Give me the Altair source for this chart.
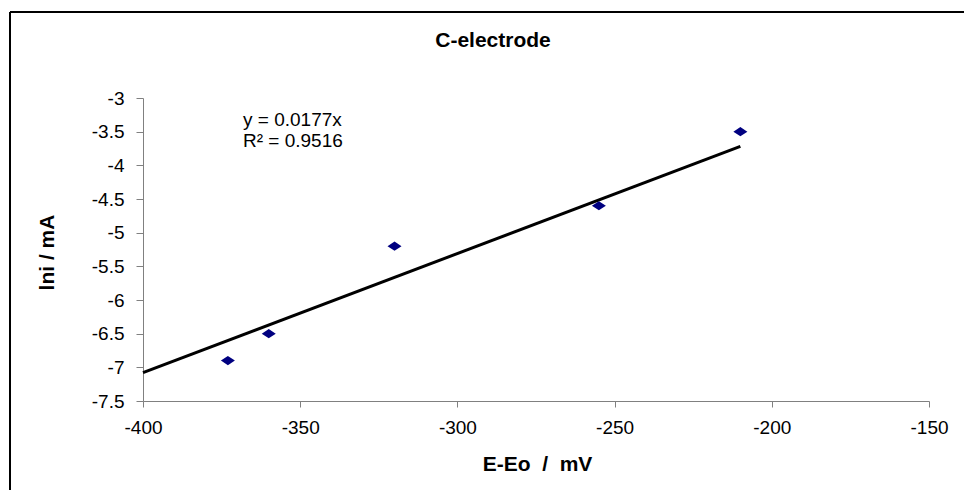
import altair as alt
import pandas as pd

# Measured points: overpotential E-Eo (mV) vs ln I (mA)
e_shift = [-373, -360, -320, -255, -210]
ln_i = [-6.9, -6.5, -5.2, -4.6, -3.5]

# Linear fit through the origin
fit_slope = 0.0177
fit_r2 = 0.9516
fit_x = [-400, -210]

x_ticks = [-400, -350, -300, -250, -200, -150]
y_ticks = [-3, -3.5, -4, -4.5, -5, -5.5, -6, -6.5, -7, -7.5]

title_text = "C-electrode"
x_title = "E-Eo\u00a0\u00a0/\u00a0\u00a0mV"
y_title = "lni / mA"

FONT = "Liberation Sans"
W, H = 786, 303
PAD = {"left": 143, "top": 98, "right": 964 - 143 - W, "bottom": 490 - 98 - H}

points = pd.DataFrame({"E": e_shift, "lnI": ln_i})
fit = pd.DataFrame({"E": fit_x})
one = pd.DataFrame({"k": [0]})

x_scale = alt.Scale(domain=[x_ticks[0], x_ticks[-1]], nice=False, zero=False)
y_scale = alt.Scale(domain=[min(y_ticks), max(y_ticks)], nice=False, zero=False)

axis_common = dict(
    grid=False,
    domainColor="#808080",
    tickColor="#808080",
    labelColor="black",
    labelFont=FONT,
    labelFontSize=19,
    labelExpr="datum.value + ''",
    titleFont=FONT,
    titleFontWeight="bold",
    titleFontSize=21,
    titleColor="black",
    titleAngle=0,
)

x_axis = alt.Axis(
    values=x_ticks, tickSize=6, labelPadding=11, labelFlush=False,
    titleX=394, titleY=63, titleBaseline="middle", titleAlign="center",
    **axis_common,
)
y_axis = alt.Axis(
    values=y_ticks, tickSize=7, labelPadding=12,
    titleX=-96, titleY=154, titleBaseline="middle", titleAlign="center",
    **{**axis_common, "titleAngle": 270},
)

X = alt.X("E:Q", scale=x_scale, axis=x_axis, title=x_title)
Y = alt.Y("lnI:Q", scale=y_scale, axis=y_axis, title=y_title)

diamonds = alt.Chart(points).mark_point(
    shape="M-1,0L0,-0.65L1,0L0,0.65Z",
    filled=True, color="#000080", opacity=1, size=196,
).encode(x=X, y=Y)

trend = alt.Chart(fit).transform_calculate(
    lnI=f"{fit_slope} * datum.E"
).mark_line(color="black", strokeWidth=3).encode(x=X, y=Y)

eq1 = alt.Chart(one).mark_text(
    align="left", baseline="middle", font=FONT, fontSize=19, color="black"
).encode(x=alt.value(100), y=alt.value(22), text=alt.value(f"y = {fit_slope}x"))

eq2 = alt.Chart(one).mark_text(
    align="left", baseline="middle", font=FONT, fontSize=19, color="black"
).encode(x=alt.value(100), y=alt.value(43), text=alt.value(f"R\u00b2 = {fit_r2}"))

title = alt.Chart(one).mark_text(
    align="center", baseline="middle", font=FONT, fontSize=21,
    fontWeight="bold", color="black",
).encode(x=alt.value(493 - 143), y=alt.value(41 - 98), text=alt.value(title_text))

# Outer chart-area border (top and left edges)
frame_top = alt.Chart(one).mark_rule(color="black", strokeWidth=2).encode(
    x=alt.value(-133), x2=alt.value(900), y=alt.value(-86)
)
frame_left = alt.Chart(one).mark_rule(color="black", strokeWidth=2).encode(
    x=alt.value(-133), y=alt.value(-86), y2=alt.value(420)
)

chart = alt.layer(
    frame_top, frame_left, trend, diamonds, eq1, eq2, title
).properties(
    width=W, height=H, padding=PAD,
    autosize=alt.AutoSizeParams(type="none"),
    background="white",
).configure_view(stroke=None)

chart.save("out.html", embed_options={"renderer": "svg", "actions": False})
